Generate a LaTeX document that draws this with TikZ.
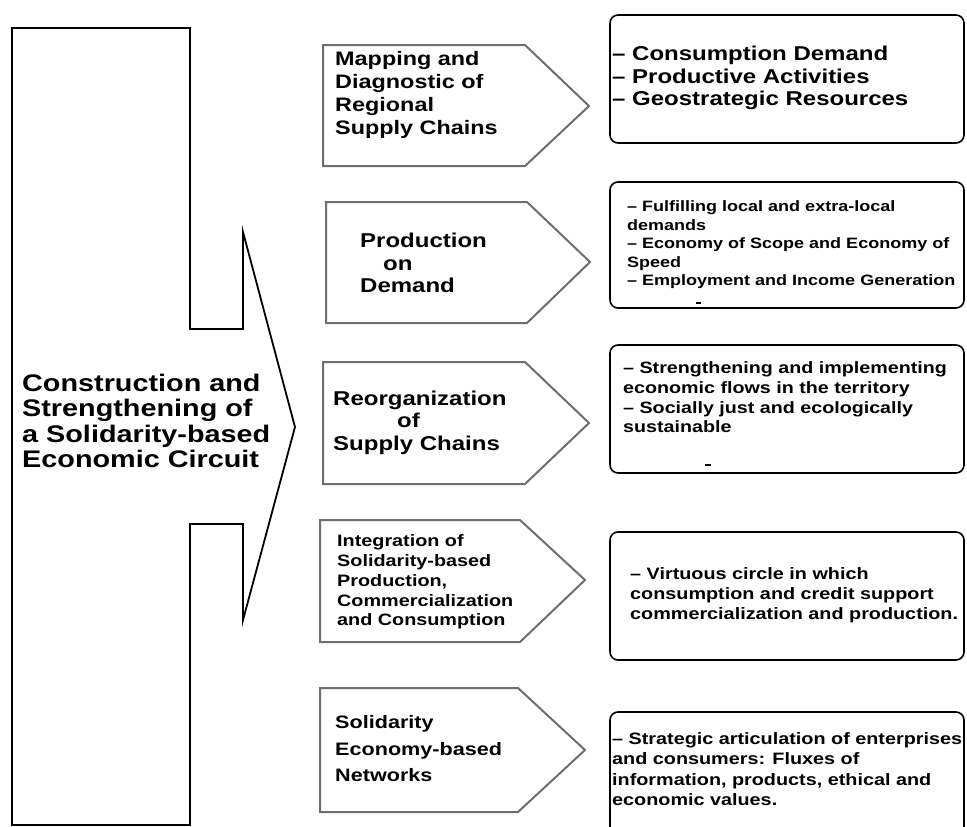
\documentclass[tikz,border=0pt]{standalone}
\usepackage{fontspec}
\setmainfont[FakeStretch=1.2]{Liberation Sans}
\definecolor{pentgray}{RGB}{110,110,110}
\begin{document}
\begin{tikzpicture}[x=1pt,y=-1pt,
  pent/.style={draw=pentgray,line width=2pt,line join=miter},
  rbox/.style={draw=black,line width=1.6pt,rounded corners=8pt},
  outline/.style={draw=black,line width=1.8pt,line join=miter},
  lbl/.style={anchor=west,align=left,inner sep=0pt,text=black},
  fA/.style={font=\bfseries\fontsize{24}{25.5}\selectfont},
  fB/.style={font=\bfseries\fontsize{19.5}{22.7}\selectfont},
  fC/.style={font=\bfseries\fontsize{16.5}{19.8}\selectfont},
  fD/.style={font=\bfseries\fontsize{20}{22.5}\selectfont},
  fE/.style={font=\bfseries\fontsize{15}{18.5}\selectfont},
  fF/.style={font=\bfseries\fontsize{16.4}{19.7}\selectfont},
  fG/.style={font=\bfseries\fontsize{16.5}{20.5}\selectfont},
  fH/.style={font=\bfseries\fontsize{18}{26.5}\selectfont},
  stray/.style={draw=black,line width=1.6pt}]
\useasboundingbox (0,0) rectangle (967,827);

% left bracket shape
\draw[outline] (12,28) -- (190,28) -- (190,329) -- (243,329) -- (243,232)
  -- (295,427) -- (243,620) -- (243,524) -- (190,524) -- (190,825)
  -- (12,825) -- cycle;
\node[lbl,fA] (main) at (22,421) {Construction and\\Strengthening of\\a Solidarity-based\\Economic Circuit};

% pentagons
\draw[pent] (323,45) -- (525,45) -- (589,106) -- (525,166) -- (323,166) -- cycle;
\draw[pent] (326,202) -- (527,202) -- (590,262) -- (527,323) -- (326,323) -- cycle;
\draw[pent] (323,362) -- (525,362) -- (589,423) -- (525,484) -- (323,484) -- cycle;
\draw[pent] (320,520) -- (520,520) -- (585,580) -- (520,642) -- (320,642) -- cycle;
\draw[pent] (320,688) -- (518,688) -- (585,750) -- (518,812) -- (320,812) -- cycle;

\node[lbl,fB] (p1) at (335,95) {Mapping and\\Diagnostic of\\Regional\\Supply Chains};
\node[lbl,fD] (p2) at (360,263) {Production\\\hspace*{23pt}on\\Demand};
\node[lbl,fD] (p3) at (333,422.5) {Reorganization\\\hspace*{64pt}of\\Supply Chains};
\node[lbl,fC] (p4) at (337,582) {Integration of\\Solidarity-based\\Production,\\Commercialization\\and Consumption};
\node[lbl,fH] (p5) at (335,749) {Solidarity\\Economy-based\\Networks};

% right boxes
\draw[rbox] (610,15) rectangle (964,143);
\draw[rbox] (610,182) rectangle (964,308);
\draw[rbox] (610,345) rectangle (964,473);
\draw[rbox] (610,532) rectangle (964,660);
\draw[rbox] (610,870) -- (610,712) -- (964,712) -- (964,870);

\node[lbl,fD] (r1) at (612,78) {– Consumption Demand\\– Productive Activities\\– Geostrategic Resources};
\node[lbl,fE] (r2) at (627,245) {– Fulfilling local and extra-local\\demands\\– Economy of Scope and Economy of\\Speed\\– Employment and Income Generation};
\node[lbl,fF] (r3) at (623,397.5) {– Strengthening and implementing\\economic flows in the territory\\– Socially just and ecologically\\sustainable};
\node[lbl,fC] (r4) at (630,595) {– Virtuous circle in which\\consumption and credit support\\commercialization and production.};
\node[lbl,fG] (r5) at (612,769) {– Strategic articulation of enterprises\\and consumers: Fluxes of\\information, products, ethical and\\economic values.};

% stray marks
\draw[stray] (696,303) -- (701,303);
\draw[stray] (705,465) -- (711,465);
\end{tikzpicture}
\end{document}
